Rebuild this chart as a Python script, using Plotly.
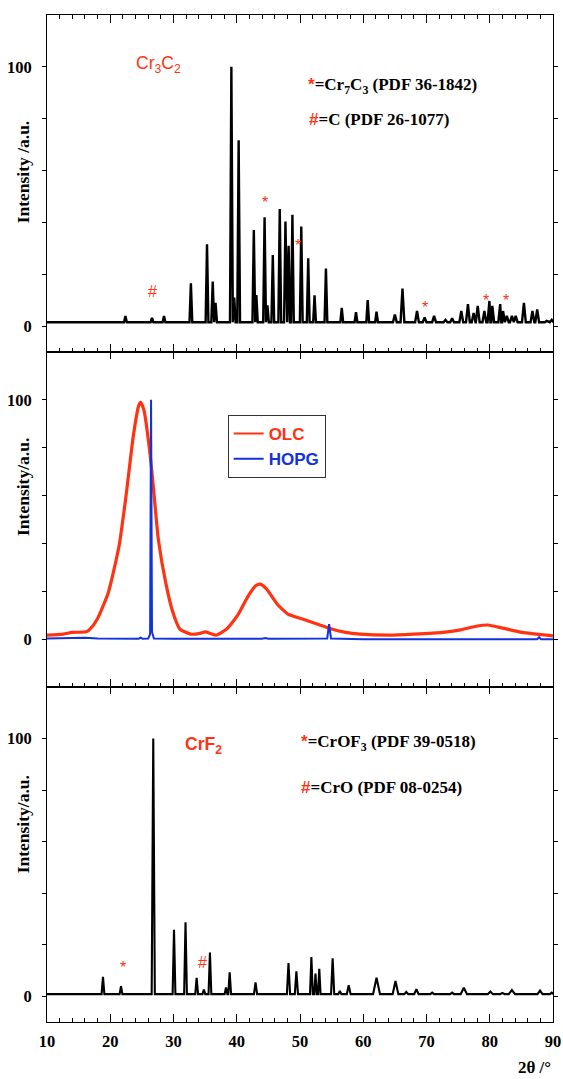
import plotly.graph_objects as go

# ---------------- data ----------------
two_theta_major = [10, 20, 30, 40, 50, 60, 70, 80, 90]
two_theta_labels = ["10", "20", "30", "40", "50", "60", "70", "80", "90"]
y_tickvals = [0, 20, 40, 60, 80, 100]
y_ticktext = ["0", "", "", "", "", "100"]

# Panel 1: Cr3C2 pattern (peak positions / intensities / half widths)
cr3c2_base = 1.5
cr3c2_pos = [22.4, 26.6, 28.5, 32.75, 35.3, 36.2, 36.65, 39.15, 39.6, 40.3, 42.7, 43.1,
             44.4, 44.85, 45.7, 46.8, 47.7, 48.2, 48.8, 50.2, 51.3, 52.3, 54.1, 56.6,
             58.85, 60.7, 62.1, 65.0, 66.2, 68.5, 69.7, 71.2, 73.0, 74.05, 75.5, 76.55,
             77.45, 78.1, 79.15, 79.95, 80.4, 81.65, 82.1, 82.7, 83.5, 84.1, 85.4, 86.75,
             87.5, 89.0, 89.8]
cr3c2_int = [3.9, 3.2, 3.9, 16.5, 31.6, 17.2, 9.0, 100, 11, 71.7, 37.1, 12,
             42, 8, 27.4, 45.2, 40.3, 31, 42.9, 38.4, 26.2, 11.9, 22.2, 7,
             5.4, 10, 5.6, 4.5, 14.5, 5.8, 3.3, 3.9, 2.4, 3.0, 5.8, 8.5,
             5.0, 7.8, 5.8, 9.7, 7.8, 8.5, 5.8, 3.9, 3.9, 3.9, 9.0, 5.8,
             6.4, 2.0, 2.4]
cr3c2_hw = [0.22] * 27 + [0.3] * 24

# Panel 2: OLC broad pattern and HOPG
olc_x = [10.0, 12.55, 13.97, 16.2, 16.8, 17.96, 19.7, 21.4, 22.5, 23.65, 24.5, 24.8,
         25.3, 26.2, 26.8, 27.6, 28.76, 29.9, 31.0, 32.7, 34.2, 35.0, 36.7, 38.4,
         40.1, 41.8, 43.0, 43.7, 44.7, 46.4, 48.1, 50.4, 52.7, 55.0, 57.2, 59.5,
         64.1, 68.0, 72.6, 75.4, 77.7, 79.7, 82.2, 85.1, 90.0]
olc_y = [1.7, 2.1, 2.8, 3.1, 4.2, 8.4, 19.5, 39, 60, 85, 97.6, 99,
         96, 79.5, 64, 41.8, 23.7, 11.2, 4.2, 2.1, 2.4, 3.0, 1.7, 4.2,
         9.8, 18, 22.3, 23, 21, 14.6, 10.5, 8.4, 6.3, 4.2, 2.8, 2.1,
         1.7, 2.1, 2.8, 3.9, 5.3, 5.9, 4.5, 2.8, 1.4]
hopg_x = [10, 14, 16, 18, 24.5, 24.8, 25.1, 26.0, 26.3, 26.45, 26.6, 26.9, 30,
          44, 44.5, 45, 54.3, 54.6, 54.9, 60, 76, 76.5, 77, 87.5, 87.8, 88.1, 90]
hopg_y = [0.3, 0.5, 0.6, 0.3, 0.2, 0.6, 0.2, 0.3, 2.0, 100, 3.0, 0.3, 0.2,
          0.2, 0.5, 0.2, 0.3, 6.3, 0.3, 0.0, 0.0, 0.3, 0.0, 0.0, 0.8, 0.0, 0.0]

# Panel 3: CrF2 pattern
crf2_base = 0.8
crf2_pos = [18.85, 21.7, 26.8, 30.08, 31.9, 33.66, 34.8, 35.76, 38.3, 38.88, 42.97,
            48.18, 49.43, 51.8, 52.45, 53.05, 55.16, 56.3, 57.7, 62.1, 65.1, 66.8,
            68.4, 70.9, 74.05, 75.9, 80.1, 82.0, 83.5, 87.95, 89.8]
crf2_int = [7.5, 3.9, 100, 25.8, 28.7, 7.1, 2.6, 17, 3.4, 9.3, 5.4,
            12.9, 9.7, 15.2, 8.8, 10.6, 14.7, 2.0, 4.3, 7.2, 5.9, 1.7,
            2.7, 1.4, 1.4, 3.3, 1.8, 1.3, 2.4, 2.2, 1.4]
crf2_hw = [0.22, 0.22, 0.25, 0.22, 0.22, 0.22, 0.22, 0.22, 0.22, 0.22, 0.25,
           0.25, 0.25, 0.22, 0.2, 0.2, 0.25, 0.25, 0.3, 0.55, 0.45, 0.3,
           0.35, 0.3, 0.3, 0.5, 0.4, 0.35, 0.5, 0.4, 0.3]

RED = "#FF3311"
BLUE = "#1432DC"
SERIF = "Liberation Serif"
SANS = "Liberation Sans"


def pattern_vertices(pos, inten, hw, base, x0=10.0, x1=90.0):
    pts = [(x0, base), (x1, base)]
    for p, h, w in zip(pos, inten, hw):
        pts += [(p - w, base), (p, h), (p + w, base)]
    pts.sort(key=lambda t: t[0])
    return [t[0] for t in pts], [t[1] for t in pts]


fig = go.Figure()

px1, py1 = pattern_vertices(cr3c2_pos, cr3c2_int, cr3c2_hw, cr3c2_base)
fig.add_trace(go.Scatter(x=px1, y=py1, mode="lines", line=dict(color="black", width=2.4),
                         showlegend=False, xaxis="x", yaxis="y"))

fig.add_trace(go.Scatter(x=olc_x, y=olc_y, mode="lines", showlegend=False,
                         line=dict(color=RED, width=3.2, shape="spline", smoothing=0.5),
                         xaxis="x2", yaxis="y2"))
fig.add_trace(go.Scatter(x=hopg_x, y=hopg_y, mode="lines", showlegend=False,
                         line=dict(color=BLUE, width=2), xaxis="x2", yaxis="y2"))
# legend entries (thin sample lines, coloured bold names)
fig.add_trace(go.Scatter(x=[None], y=[None], mode="lines", name="<b>OLC</b>",
                         line=dict(color=RED, width=2), xaxis="x2", yaxis="y2"))
fig.add_trace(go.Scatter(x=[None], y=[None], mode="lines",
                         name='<b><span style="color:%s">HOPG</span></b>' % BLUE,
                         line=dict(color=BLUE, width=2), xaxis="x2", yaxis="y2"))

px3, py3 = pattern_vertices(crf2_pos, crf2_int, crf2_hw, crf2_base)
fig.add_trace(go.Scatter(x=px3, y=py3, mode="lines", line=dict(color="black", width=2.1),
                         showlegend=False, xaxis="x3", yaxis="y3"))

# figure fills the page (body margin removed below)
W, H = 563, 1079
top, bot, left, right = 15, 57, 47, 10
plot_h = H - top - bot
plot_w = W - left - right
pb = H - bot  # plot bottom in page pixels
d12 = (pb - 352) / plot_h
d23 = (pb - 687) / plot_h

tickfont = dict(family=SERIF, size=16.5, color="black", weight="bold")
xcommon = dict(range=[10, 90], tickvals=two_theta_major, ticks="inside", ticklen=8,
               tickwidth=1, tickcolor="black", showline=True, linecolor="black", linewidth=1,
               showgrid=False, zeroline=False,
               minor=dict(dtick=2, tick0=10, ticks="inside", ticklen=4, tickcolor="black",
                          showgrid=False))
ycommon = dict(tickvals=y_tickvals, ticktext=y_ticktext, ticks="outside", ticklen=4,
               tickcolor="black", showline=True, linecolor="black", linewidth=1,
               mirror="ticks", showgrid=False, zeroline=False, ticklabelstandoff=7,
               tickfont=tickfont)
xover = dict(range=[10, 90], tickvals=two_theta_major, tickcolor="black",
             showticklabels=False, showline=False, showgrid=False, zeroline=False)

fig.update_layout(
    width=W, height=H,
    margin=dict(l=left, r=right, t=top, b=bot, autoexpand=False),
    plot_bgcolor="white", paper_bgcolor="white",
    xaxis=dict(**xcommon, domain=[0, 1], anchor="y", mirror="allticks", showticklabels=False),
    yaxis=dict(**ycommon, domain=[d12, 1], range=[-10, 120], anchor="x"),
    xaxis2=dict(**xcommon, domain=[0, 1], anchor="y2", mirror=True, showticklabels=False),
    yaxis2=dict(**ycommon, domain=[d23, d12], range=[-20, 120], anchor="x2"),
    xaxis3=dict(**xcommon, domain=[0, 1], anchor="y3", mirror=True, ticktext=two_theta_labels,
                showticklabels=True, tickfont=tickfont, ticklabelstandoff=4),
    yaxis3=dict(**ycommon, domain=[0, d23], range=[-10, 120], anchor="x3"),
    xaxis4=dict(**xover, overlaying="x2", anchor="y2", side="top", ticks="inside", ticklen=7),
    xaxis5=dict(**xover, overlaying="x3", anchor="y3", side="top", ticks="inside", ticklen=7),
    legend=dict(x=0.357, y=(pb - 415) / plot_h, xanchor="left", yanchor="top",
                bordercolor="#333333", borderwidth=1, bgcolor="white",
                font=dict(family=SANS, size=17, color=RED),
                itemwidth=30, tracegroupgap=0),
    showlegend=True,
)

for xa, ya in (("x4", "y2"), ("x5", "y3")):
    fig.add_trace(go.Scatter(x=[None], y=[None], xaxis=xa, yaxis=ya, showlegend=False,
                             hoverinfo="skip"))

ann = []
def A(text, x, y, xref, yref, size, color="black", family=SERIF, xanchor="left",
      yanchor="middle", angle=0):
    ann.append(dict(text=text, x=x, y=y, xref=xref, yref=yref, showarrow=False,
                    font=dict(family=family, size=size, color=color), xanchor=xanchor,
                    yanchor=yanchor, textangle=angle))

B = lambda s: "<b>" + s + "</b>"
star = '<span style="color:%s;font-family:Liberation Sans">*</span>' % RED
hashm = '<span style="color:%s;font-family:Liberation Sans">#</span>' % RED

ytitle_x = (23.0 - left) / plot_w

# axis titles
A(B("Intensity /a.u."), ytitle_x, 59.3, "paper", "y", 17.5, xanchor="center", angle=-90)
A(B("Intensity/a.u."), ytitle_x, 63.6, "paper", "y2", 17.5, xanchor="center", angle=-90)
A(B("Intensity/a.u."), ytitle_x, 66.7, "paper", "y3", 17.5, xanchor="center", angle=-90)
A(B("2θ /°"), 1.0, -bot / plot_h, "paper", "paper", 17, xanchor="right", yanchor="bottom")

# panel 1 labels
A("Cr<sub>3</sub>C<sub>2</sub>", 23.8, 100.8, "x", "y", 17.5, color=RED, family=SANS)
A(B(star + "=Cr<sub>7</sub>C<sub>3</sub> (PDF 36-1842)"), 51.0, 92.6, "x", "y", 17)
A(B(hashm + "=C (PDF 26-1077)"), 51.1, 79.5, "x", "y", 17)
for (mx, my, t) in [(26.6, 13.2, "#"), (44.5, 47.5, "*"), (49.66, 31, "*"),
                    (69.8, 7, "*"), (79.4, 9.7, "*"), (82.6, 9.7, "*")]:
    A(t, mx, my, "x", "y", 16, color=RED, family=SANS, xanchor="center")

# panel 3 labels
A(B("CrF<sub>2</sub>"), 31.5, 97.3, "x3", "y3", 17.5, color=RED, family=SANS)
A(B(star + "=CrOF<sub>3</sub> (PDF 39-0518)"), 49.9, 98.4, "x3", "y3", 17)
A(B(hashm + "=CrO (PDF 08-0254)"), 49.9, 81, "x3", "y3", 17)
for (mx, my, t) in [(22.0, 11.3, "*"), (34.6, 12.9, "#")]:
    A(t, mx, my, "x3", "y3", 16, color=RED, family=SANS, xanchor="center")

fig.update_layout(annotations=ann)
fig.write_html("out.html", config={"displayModeBar": False},
               post_script="document.body.style.margin='0';document.body.style.overflow='hidden';")
